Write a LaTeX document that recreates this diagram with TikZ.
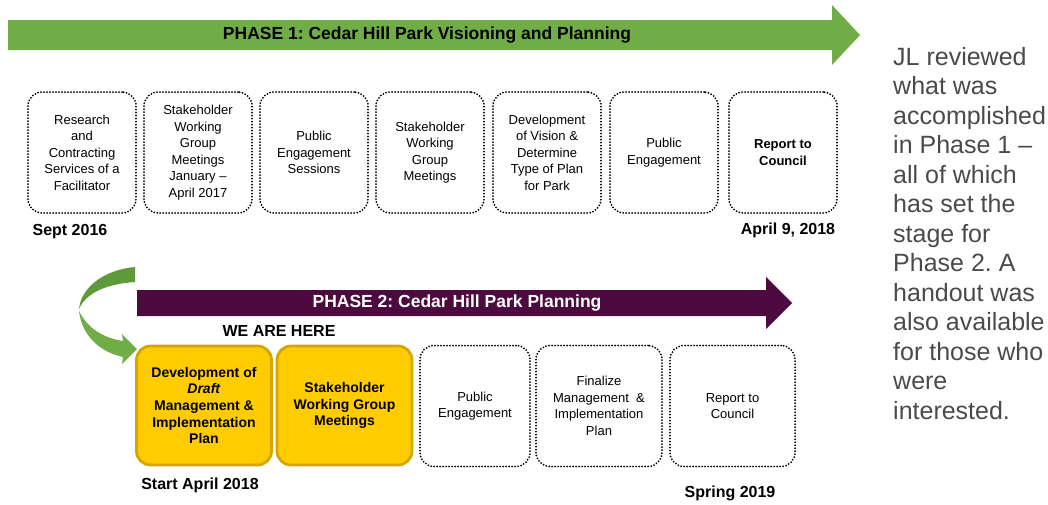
\documentclass[tikz,border=0pt]{standalone}
\usepackage{fontspec}
\setmainfont{Liberation Sans}
\definecolor{phgreen}{HTML}{70AD47}
\definecolor{phgreendk}{HTML}{5E9A3A}
\definecolor{phpurple}{HTML}{4D0A3E}
\definecolor{gold}{HTML}{FFCC00}
\definecolor{golddk}{HTML}{D4A600}
\definecolor{notegray}{HTML}{4A4A4A}
\frenchspacing
\begin{document}
\begin{tikzpicture}[x=1pt,y=-1pt,
  dotbox/.style={draw=black, line width=2pt, dash pattern=on 0pt off 3pt, line cap=round,
    rounded corners=14pt, minimum width=108pt, minimum height=121pt, align=center,
    font=\fontsize{13}{16.5}\selectfont, inner sep=2pt},
  yelbox/.style={draw=golddk, line width=2.8pt, fill=gold, rounded corners=14pt,
    minimum width=135pt, minimum height=119pt, align=center,
    font=\bfseries\fontsize{14}{16.7}\selectfont, inner sep=2pt},
  datelbl/.style={font=\bfseries\fontsize{16}{18}\selectfont, inner sep=0pt},
  title/.style={font=\bfseries\fontsize{17.5}{20}\selectfont, inner sep=0pt}]
\useasboundingbox (0,0) rectangle (1048,504);

% Phase 1 arrow
\fill[phgreen] (8,20) -- (832,20) -- (832,5) -- (860,35) -- (832,65) -- (832,50) -- (8,50) -- cycle;
\node[title] (p1) at (427,35) {PHASE 1: Cedar Hill Park Visioning and Planning};

% Phase 1 boxes
\node[dotbox] (a1) at (82,152.5) {Research\\and\\Contracting\\Services of a\\Facilitator};
\node[dotbox] (a2) at (198,152.5) {Stakeholder\\Working\\Group\\Meetings\\January --\\April 2017};
\node[dotbox] (a3) at (314,152.5) {Public\\Engagement\\Sessions};
\node[dotbox] (a4) at (430,152.5) {Stakeholder\\Working\\Group\\Meetings};
\node[dotbox] (a5) at (547,152.5) {Development\\of Vision \&\\Determine\\Type of Plan\\for Park};
\node[dotbox] (a6) at (664,152.5) {Public\\Engagement};
\node[dotbox, font=\bfseries\fontsize{13}{16.5}\selectfont] (a7) at (783,152.5) {Report to\\Council};

\node[datelbl] (d1) at (70,232) {Sept 2016};
\node[datelbl] (d2) at (788,230) {April 9, 2018};

% Phase 2 arrow
\fill[phpurple] (137,290) -- (766,290) -- (766,277) -- (792,303) -- (766,329) -- (766,316) -- (137,316) -- cycle;
\node[title, text=white] (p2) at (457,303) {PHASE 2: Cedar Hill Park Planning};

% curved green arrow
\fill[phgreendk] (135,267) .. controls (103,270) and (81,288) .. (79,309)
  .. controls (86,293) and (106,284) .. (135,282) -- cycle;
\fill[phgreen] (79,311) .. controls (82,336) and (100,352) .. (123,357)
  -- (122,364) -- (137,349) -- (122,334) -- (123,341)
  .. controls (104,338) and (88,329) .. (79,311) -- cycle;

\node[datelbl] (here) at (279,331) {WE ARE HERE};

% Phase 2 boxes
\node[yelbox] (b1) at (204,405.5) {Development of\\\textit{Draft}\\Management \&\\Implementation\\Plan};
\node[yelbox] (b2) at (344.5,405.5) {Stakeholder\\Working Group\\Meetings};
\node[dotbox, minimum width=110pt] (b3) at (475,406) {Public\\Engagement};
\node[dotbox, minimum width=126pt] (b4) at (599,406) {Finalize\\Management~ \&\\Implementation\\Plan};
\node[dotbox, minimum width=125pt] (b5) at (732.5,406) {Report to\\Council};

\node[datelbl] (d3) at (200,485) {Start April 2018};
\node[datelbl] (d4) at (730,493) {Spring 2019};

% note
\node[anchor=north west, align=left, text=notegray, inner sep=0pt,
  font=\fontsize{25}{29.5}\selectfont] (note) at (893,47)
  {JL reviewed\\what was\\accomplished\\in Phase 1 --\\all of which\\has set the\\stage for\\Phase 2. A\\handout was\\also available\\for those who\\were\\interested.};
\end{tikzpicture}
\end{document}
